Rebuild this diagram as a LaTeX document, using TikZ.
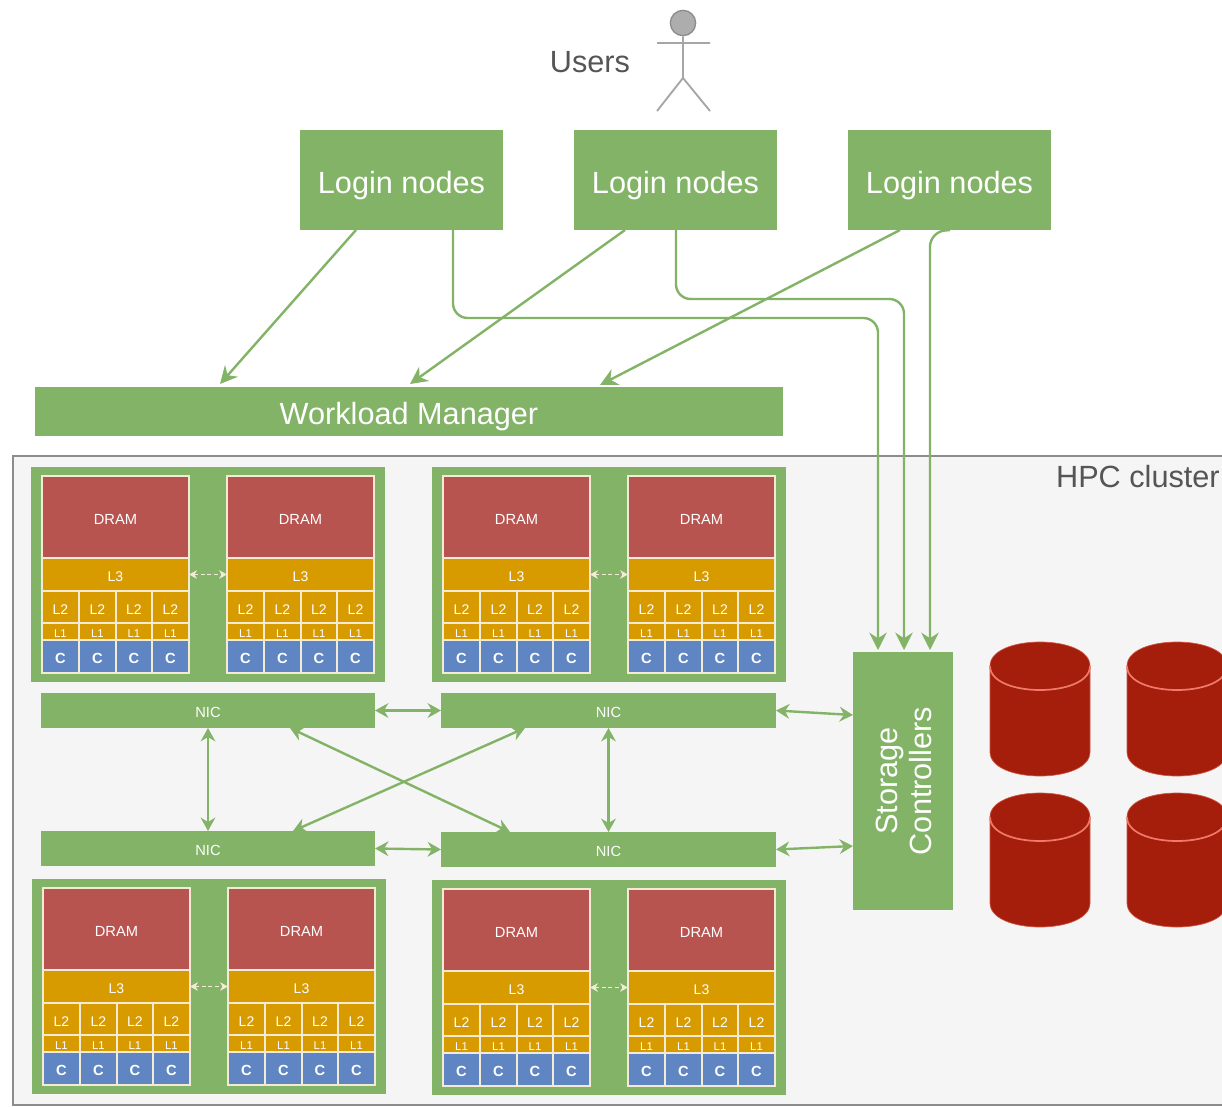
\documentclass[tikz,border=0pt]{standalone}
\usepackage{fontspec}
\setmainfont{Liberation Sans}
\usetikzlibrary{arrows.meta,calc}
\definecolor{gfill}{HTML}{82B366}
\definecolor{rfill}{HTML}{B85450}
\definecolor{ofill}{HTML}{D79B00}
\definecolor{bfill}{HTML}{5F86C2}
\definecolor{cyl}{HTML}{A51D0B}
\definecolor{cylline}{HTML}{EE7A6A}
\definecolor{edgeg}{HTML}{F3EBD5}
\definecolor{clusterbg}{HTML}{F5F5F5}
\definecolor{txt}{HTML}{555555}
\tikzset{
  px/.style={x=0.75pt,y=-0.75pt},
  rbox/.style={inner sep=0pt,outer sep=0pt,text=white,font=\fontsize{#1}{#1}\selectfont,text height={#1*0.72pt+3.2pt},text depth=0pt},
  rbox/.default=11,
  gbox/.style={rbox=#1,fill=gfill},
  gbox/.default=23,
  cell/.style={rbox=#1,draw=edgeg,line width=0.9pt},
  cell/.default=10,
  link/.style={draw=gfill,line width=1.8pt,-{Stealth[length=13pt,width=13pt]},rounded corners=11pt},
  dlink/.style={draw=gfill,line width=1.8pt,{Stealth[length=10pt,width=11pt]}-{Stealth[length=10pt,width=11pt]}},
  ilink/.style={draw=edgeg,line width=1.3pt,{Stealth[length=6pt,width=6.5pt]}-{Stealth[length=6pt,width=6.5pt]},densely dashed},
  actor/.style={draw=#1,line width=1.4pt},
  lbl/.style={text=txt,inner sep=0pt,font=\fontsize{23}{23}\selectfont}
}
% name, x0, y0, x1, y1, style, text
\newcommand{\rectn}[7]{%
  \node[#6,minimum width={(#4-#2)*0.75pt},minimum height={(#5-#3)*0.75pt}] (#1)
    at ({(#2+#4)/2},{(#3+#5)/2}) {#7};}
% one processor stack: name, left, top
\newcommand{\stackn}[3]{%
  \begin{scope}[shift={(#2,#3)}]
    \rectn{#1-dram}{0}{0}{147}{82}{cell=11,fill=rfill}{DRAM}
    \rectn{#1-l3}{0}{82}{147}{115}{cell=10.5,fill=ofill}{L3}
    \foreach \i/\xa/\xb in {1/0/37,2/37/74,3/74/110,4/110/147}{
      \rectn{#1-ltwo\i}{\xa}{115}{\xb}{147}{cell=10.5,fill=ofill}{L2}
      \rectn{#1-lone\i}{\xa}{147}{\xb}{164}{cell=8.5,fill=ofill}{L1}
      \rectn{#1-c\i}{\xa}{164}{\xb}{197}{cell=11,fill=bfill}{\textbf{C}}
    }
  \end{scope}}
% server: name, left of frame, top of frame
\newcommand{\servern}[3]{%
  \begin{scope}[shift={(#2,#3)}]
    \rectn{#1}{0}{0}{354}{215}{gbox}{}
    \stackn{#1a}{11}{9}
    \stackn{#1b}{196}{9}
    \draw[ilink] (#1a-l3.east) -- (#1b-l3.west);
  \end{scope}}
\newcommand{\cylindern}[2]{%
  \path[fill=cyl,draw=cylline!60!cyl,line width=0.5pt]
    (#1,#2+24) .. controls (#1,#2-8) and (#1+100,#2-8) .. (#1+100,#2+24)
    -- (#1+100,#2+110) .. controls (#1+100,#2+142) and (#1,#2+142) .. (#1,#2+110) -- cycle;
  \draw[cylline,line width=1.3pt]
    (#1,#2+24) .. controls (#1,#2+56) and (#1+100,#2+56) .. (#1+100,#2+24);}
\begin{document}
\begin{tikzpicture}[px]
\useasboundingbox (0,0) rectangle (1222,1107);
\clip (0,0) rectangle (1222,1107);
\fill[white] (0,0) rectangle (1222,1107);
% cluster
\rectn{cluster}{13}{456}{1240}{1105}{draw=black!45,line width=0.8pt,fill=clusterbg,inner sep=0pt,outer sep=0pt}{}
\node[lbl,anchor=east] (clusterlabel) at (1220,477) {HPC cluster};
% user
\node[lbl] (userslabel) at (590,62) {Users};
\node[circle,draw=black!45,fill=black!32,line width=1pt,minimum size=19pt,inner sep=0pt] (head) at (683,23) {};
\coordinate (armL) at (657,43);
\coordinate (armR) at (710,43);
\coordinate (hip) at (683,78);
\coordinate (legL) at (657,111);
\coordinate (legR) at (710,111);
\draw[actor=black!35] (armL) -- (armR) (head.south) -- (hip) (legL) -- (hip) -- (legR);
% upper boxes
\rectn{login1}{300}{130}{503}{230}{gbox}{Login nodes}
\rectn{login2}{574}{130}{777}{230}{gbox}{Login nodes}
\rectn{login3}{848}{130}{1051}{230}{gbox}{Login nodes}
\rectn{wlm}{35}{387}{783}{436}{gbox}{Workload Manager}
% servers
\servern{s1}{31}{467}
\servern{s2}{432}{467}
\servern{s3}{32}{879}
\servern{s4}{432}{880}
% nics
\rectn{nic1}{41}{693}{375}{728}{gbox=11}{NIC}
\rectn{nic2}{441}{693}{776}{728}{gbox=11}{NIC}
\rectn{nic3}{41}{831}{375}{866}{gbox=11}{NIC}
\rectn{nic4}{441}{832}{776}{867}{gbox=11}{NIC}
% storage
\rectn{storage}{853}{652}{953}{910}{gbox}{}
\node[rotate=90,inner sep=0pt,text=white,align=center,font=\fontsize{23}{26}\selectfont] (storagelabel) at (904,781) {Storage\\Controllers};
\cylindern{990}{642}
\cylindern{1127}{642}
\cylindern{990}{793}
\cylindern{1127}{793}
% login connectors
\draw[link] ($(login1.south west)+(56,0)$) -- ($(wlm.north west)+(185,-3)$);
\draw[link] ($(login2.south west)+(51,0)$) -- ($(wlm.north west)+(375,-3)$);
\draw[link] ($(login3.south west)+(52,0)$) -- ($(wlm.north west)+(565,-2)$);
\draw[link] ($(login1.south west)+(153,0)$) |- (878,318) -- ($(storage.north west)+(25,-2)$);
\draw[link] ($(login2.south west)+(102,0)$) |- (904,299) -- ($(storage.north west)+(51,-2)$);
\draw[link] ($(login3.south west)+(102,0)$) -- (930,232) -- ($(storage.north west)+(77,-2)$);
% nic connectors
\draw[dlink] (nic1.east) -- (nic2.west);
\draw[dlink] (nic3.east) -- (nic4.west);
\draw[dlink] (nic1.south) -- (nic3.north);
\draw[dlink] (nic2.south) -- (nic4.north);
\draw[dlink] ($(nic1.south west)+(249,0)$) -- ($(nic4.north west)+(69,0)$);
\draw[dlink] ($(nic2.south west)+(84,0)$) -- ($(nic3.north west)+(252,0)$);
\draw[dlink] (nic2.east) -- ($(storage.west)+(0,-66)$);
\draw[dlink] (nic4.east) -- ($(storage.west)+(0,65)$);
\end{tikzpicture}
\end{document}
